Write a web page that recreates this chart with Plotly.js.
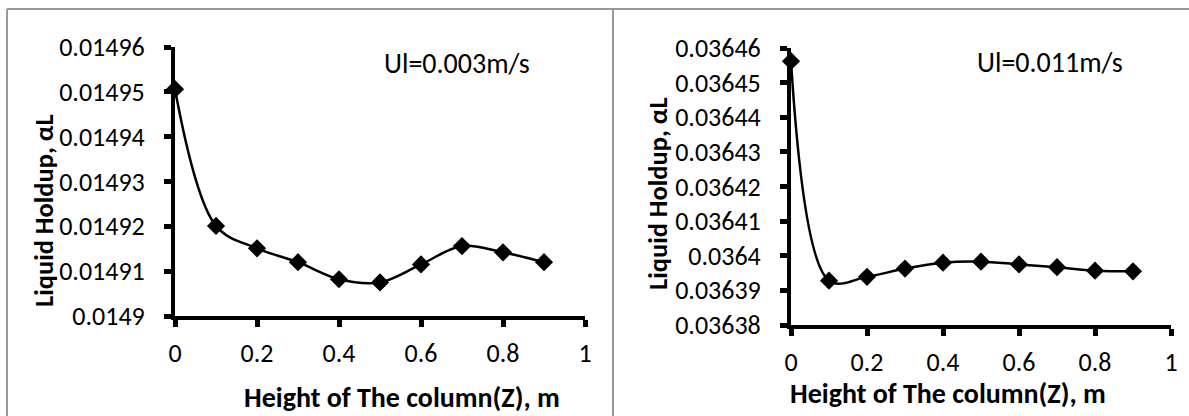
<!DOCTYPE html>
<html>
<head>
<meta charset="utf-8">
<script src="https://cdn.plot.ly/plotly-3.0.1.min.js"></script>
<style>
html,body{margin:0;padding:0;background:#fff;}
#chart{width:1189px;height:416px;}
</style>
</head>
<body>
<div id="chart"></div>
<script>
// ---- data ----
const heightZ = [0, 0.1, 0.2, 0.3, 0.4, 0.5, 0.6, 0.7, 0.8, 0.9];
const holdupUl003 = [0.0149506, 0.0149201, 0.0149151, 0.0149120, 0.0149082, 0.0149075, 0.0149115, 0.0149156, 0.0149142, 0.0149120];
const holdupUl011 = [0.0364562, 0.0363928, 0.0363939, 0.0363963, 0.0363980, 0.0363983, 0.0363975, 0.0363967, 0.0363957, 0.0363955];

const xTickVals = [0, 0.2, 0.4, 0.6, 0.8, 1];
const xTickText = ["0", "0.2", "0.4", "0.6", "0.8", "1"];
const yTickVals1 = [0.0149, 0.01491, 0.01492, 0.01493, 0.01494, 0.01495, 0.01496];
const yTickText1 = ["0.0149", "0.01491", "0.01492", "0.01493", "0.01494", "0.01495", "0.01496"];
const yTickVals2 = [0.03638, 0.03639, 0.0364, 0.03641, 0.03642, 0.03643, 0.03644, 0.03645, 0.03646];
const yTickText2 = ["0.03638", "0.03639", "0.0364", "0.03641", "0.03642", "0.03643", "0.03644", "0.03645", "0.03646"];

const panelLabels = ["Ul=0.003m/s", "Ul=0.011m/s"];
const xTitle = "Height of The column(Z), m";
const yTitle = "Liquid Holdup, αL";

// ---- styling ----
const W = 1189, H = 416;
const FONT = "Carlito, Calibri, 'Open Sans', sans-serif";
const px = v => v / W;
const py = v => 1 - v / H;

function trace(y, xa, ya) {
  return {
    x: heightZ, y: y, xaxis: xa, yaxis: ya,
    type: "scatter", mode: "lines+markers",
    line: {color: "#000", width: 2.5, shape: "spline", smoothing: 1},
    marker: {symbol: "diamond", size: 14, color: "#000"},
    hoverinfo: "skip", showlegend: false, cliponaxis: false
  };
}

function xaxis(domain, anchor) {
  return {
    domain: domain, anchor: anchor, range: [0, 1],
    tickvals: xTickVals, ticktext: xTickText,
    showline: true, linecolor: "#000", linewidth: 4,
    ticks: "outside", ticklen: 7, tickwidth: 5, tickcolor: "#000",
    showgrid: false, zeroline: false, ticklabelstandoff: 4,
    tickfont: {family: FONT, size: 26, color: "#000"}
  };
}
function yaxis(domain, anchor, range, vals, text) {
  return {
    domain: domain, anchor: anchor, range: range,
    tickvals: vals, ticktext: text,
    showline: true, linecolor: "#000", linewidth: 4,
    ticks: "outside", ticklen: 7, tickwidth: 5, tickcolor: "#000",
    showgrid: false, zeroline: false, ticklabelstandoff: 14,
    tickfont: {family: FONT, size: 26, color: "#000"}
  };
}

const data = [trace(holdupUl003, "x", "y"), trace(holdupUl011, "x2", "y2")];

const grey = {color: "#999999", width: 2};
const layout = {
  width: W, height: H,
  margin: {l: 0, r: 0, t: 0, b: 0},
  paper_bgcolor: "#fff", plot_bgcolor: "rgba(0,0,0,0)",
  xaxis: xaxis([px(175), px(585)], "y"),
  yaxis: yaxis([py(316), py(47)], "x", [0.0149, 0.01496], yTickVals1, yTickText1),
  xaxis2: xaxis([px(791), px(1171)], "y2"),
  yaxis2: yaxis([py(325), py(48)], "x2", [0.03638, 0.03646], yTickVals2, yTickText2),
  shapes: [
    {type: "line", xref: "paper", yref: "paper", x0: px(7), x1: px(7), y0: 0, y1: py(9), line: grey},
    {type: "line", xref: "paper", yref: "paper", x0: px(7), x1: 1, y0: py(9), y1: py(9), line: grey},
    {type: "line", xref: "paper", yref: "paper", x0: px(613), x1: px(613), y0: 0, y1: py(9), line: grey}
  ],
  annotations: [
    {text: panelLabels[0], xref: "paper", yref: "paper", x: px(457), y: py(63), showarrow: false,
     xanchor: "center", yanchor: "middle", font: {family: FONT, size: 28, color: "#000"}},
    {text: panelLabels[1], xref: "paper", yref: "paper", x: px(1050), y: py(62), showarrow: false,
     xanchor: "center", yanchor: "middle", font: {family: FONT, size: 28, color: "#000"}},
    {text: "<b>" + xTitle + "</b>", xref: "paper", yref: "paper", x: px(402), y: py(397), showarrow: false,
     xanchor: "center", yanchor: "middle", font: {family: FONT, size: 28, color: "#000"}},
    {text: "<b>" + xTitle + "</b>", xref: "paper", yref: "paper", x: px(948), y: py(393), showarrow: false,
     xanchor: "center", yanchor: "middle", font: {family: FONT, size: 28, color: "#000"}},
    {text: "<b>" + yTitle + "</b>", xref: "paper", yref: "paper", x: px(44), y: py(211), showarrow: false,
     textangle: -90, xanchor: "center", yanchor: "middle", font: {family: FONT, size: 26.5, color: "#000"}},
    {text: "<b>" + yTitle + "</b>", xref: "paper", yref: "paper", x: px(658), y: py(194), showarrow: false,
     textangle: -90, xanchor: "center", yanchor: "middle", font: {family: FONT, size: 26.5, color: "#000"}}
  ]
};

Plotly.newPlot("chart", data, layout, {staticPlot: true, displayModeBar: false});
</script>
</body>
</html>
